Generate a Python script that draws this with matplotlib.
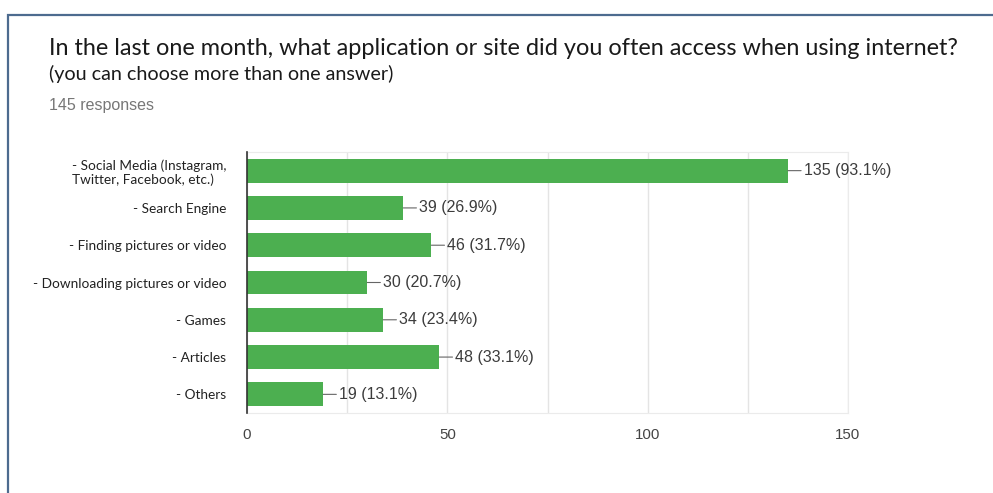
import matplotlib.pyplot as plt
from matplotlib.patches import Rectangle

# survey answers, top to bottom
labels = ["- Social Media (Instagram,\nTwitter, Facebook, etc.)",
          "- Search Engine",
          "- Finding pictures or video",
          "- Downloading pictures or video",
          "- Games",
          "- Articles",
          "- Others"]
counts = [135, 39, 46, 30, 34, 48, 19]
percents = [93.1, 26.9, 31.7, 20.7, 23.4, 33.1, 13.1]
total = 145
xticks = [0, 50, 100, 150]

title = "In the last one month, what application or site did you often access when using internet?"
subtitle = "(you can choose more than one answer)"

plt.rcParams["font.family"] = ["Lato", "DejaVu Sans"]
arial = ["Liberation Sans", "DejaVu Sans"]

green = "#4caf50"
fig = plt.figure(figsize=(9.93, 4.93), dpi=100)

# card border (only left and top edges are visible)
fig.patches.append(Rectangle((8 / 993, -0.1), 1.2, 1 - 15 / 493 + 0.1,
                             transform=fig.transFigure, fill=False,
                             edgecolor="#4d6b8f", lw=1.6))

fig.text(49 / 993, 1 - 55 / 493, title, fontsize=16.95, color="#1a1a1a", va="baseline")
fig.text(49 / 993, 1 - 80 / 493, subtitle, fontsize=14.2, color="#1a1a1a", va="baseline")
fig.text(49 / 993, 1 - 110 / 493, f"{total} responses", fontsize=11.5,
         color="#777777", va="baseline", family=arial)

ax = fig.add_axes([247 / 993, 1 - 413 / 493, 601 / 993, 261 / 493])
pos = range(len(counts))
ax.barh(pos, counts, height=0.64, color=green, zorder=3)
ax.set_xlim(0, 150)
ax.set_ylim(len(counts) - 0.5, -0.5)

ax.set_xticks(range(0, 151, 25))
ax.set_xticklabels([str(t) if t in xticks else "" for t in range(0, 151, 25)],
                   family=arial)
ax.grid(axis="x", color="#e4e4e4", lw=1, zorder=0)
ax.tick_params(axis="x", length=0, pad=11, labelsize=10.8, labelcolor="#444444")
ax.set_yticks(list(pos))
ax.set_yticklabels(labels, fontsize=9.8, color="#222222")
ax.tick_params(axis="y", length=0, pad=15)
for lbl in ax.get_yticklabels():
    lbl.set_multialignment("left")

for s in ["top", "bottom", "right"]:
    ax.spines[s].set_color("#ebebeb")
ax.spines["left"].set_color("#333333")
ax.spines["left"].set_linewidth(1.2)
ax.spines["left"].set_zorder(4)

for i, (c, p) in enumerate(zip(counts, percents)):
    ax.annotate(f"{c} ({p}%)", xy=(c, i), xytext=(11.5, 0), textcoords="offset points",
                va="center", ha="left", fontsize=11.5, color="#3c3c3c", family=arial,
                arrowprops=dict(arrowstyle="-", color="#666666", lw=0.8,
                                shrinkA=0, shrinkB=0))

fig.savefig("out.png", dpi=100)
